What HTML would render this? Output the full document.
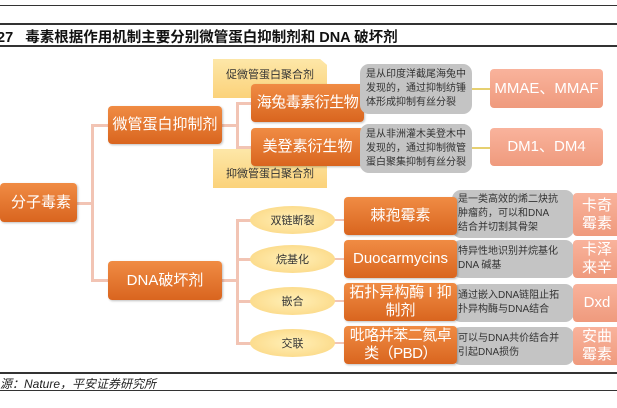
<!DOCTYPE html>
<html><head><meta charset="utf-8"><style>
body{margin:0;width:617px;height:408px;background:#fff;position:relative;overflow:hidden;font-family:"Liberation Sans","Noto Sans CJK SC",sans-serif;}
.a{position:absolute;box-sizing:border-box;display:flex;align-items:center;justify-content:center;text-align:center;white-space:nowrap;}
.o{background:linear-gradient(#f08c44,#d9651f);color:#fff;border-radius:4px;font-size:15px;line-height:18px;box-shadow:1px 1px 2px rgba(0,0,0,.25);}
.g{background:#c4c4c4;color:#333;border-radius:9px;font-size:10px;line-height:14px;text-align:left;justify-content:flex-start;padding-left:6px;}
.s{background:linear-gradient(#f9b39c,#ef9a7d);color:#fff;border-radius:4px;font-size:15px;line-height:18px;}
.y{background:linear-gradient(#fde7a8,#fbd27a);color:#333;font-size:11px;}
.e{background:radial-gradient(#fff0b8,#fbd47c);border-radius:50%;font-size:11px;color:#333;}
.l{position:absolute;background:#f2c4b4;}
.ln{position:absolute;left:0;width:617px;background:#333;}
</style></head><body>
<div class="ln" style="top:5px;height:1px"></div>
<div class="ln" style="top:23px;height:2px"></div>
<div class="ln" style="top:45px;height:2px"></div>
<div style="position:absolute;left:-3px;top:26px;font-size:14.5px;font-weight:bold;color:#111;white-space:nowrap">27&nbsp;&nbsp;&nbsp;毒素根据作用机制主要分别微管蛋白抑制剂和 DNA 破坏剂</div>

<div class="l" style="left:91px;top:125px;width:3px;height:157px;border-radius:3px"></div>
<div class="l" style="left:91px;top:124px;width:18px;height:3px"></div>
<div class="l" style="left:91px;top:279px;width:18px;height:3px"></div>
<div class="l" style="left:77px;top:202px;width:16px;height:3px"></div>
<div class="l" style="left:222px;top:124px;width:16px;height:3px"></div>
<div class="l" style="left:236px;top:103px;width:3px;height:44px"></div>
<div class="l" style="left:236px;top:102px;width:16px;height:3px"></div>
<div class="l" style="left:236px;top:146px;width:16px;height:3px"></div>
<div class="l" style="left:222px;top:279px;width:16px;height:3px"></div>
<div class="l" style="left:236px;top:219px;width:3px;height:125px"></div>
<div class="l" style="left:236px;top:219px;width:15px;height:3px"></div>
<div class="l" style="left:236px;top:258px;width:15px;height:3px"></div>
<div class="l" style="left:236px;top:300px;width:15px;height:3px"></div>
<div class="l" style="left:236px;top:342px;width:15px;height:3px"></div>
<div class="l" style="left:334px;top:219px;width:12px;height:2px"></div>
<div class="l" style="left:334px;top:258px;width:12px;height:2px"></div>
<div class="l" style="left:334px;top:300px;width:12px;height:2px"></div>
<div class="l" style="left:334px;top:342px;width:12px;height:2px"></div>
<div class="l" style="left:470px;top:88px;width:22px;height:2px;background:#e6d070"></div>
<div class="l" style="left:470px;top:147px;width:22px;height:2px;background:#e6d070"></div>

<div class="a y" style="left:213px;top:59px;width:114px;height:39px;align-items:flex-start;padding-top:7px;clip-path:polygon(0 0,94% 0,100% 15%,100% 100%,0 100%)">促微管蛋白聚合剂</div>
<div class="a y" style="left:213px;top:149px;width:114px;height:39px;align-items:flex-end;padding-bottom:7px">抑微管蛋白聚合剂</div>

<div class="a o" style="left:0;top:183px;width:77px;height:39px;justify-content:flex-end;padding-right:6px">分子毒素</div>
<div class="a o" style="left:108px;top:106px;width:114px;height:38px">微管蛋白抑制剂</div>
<div class="a o" style="left:108px;top:261px;width:114px;height:39px">DNA破坏剂</div>
<div class="a o" style="left:251px;top:84px;width:113px;height:38px;font-size:15px;letter-spacing:-0.5px">海兔毒素衍生物</div>
<div class="a o" style="left:251px;top:128px;width:113px;height:38px;font-size:15px">美登素衍生物</div>

<div class="a g" style="left:360px;top:64px;width:112px;height:50px">是从印度洋截尾海兔中<br>发现的，通过抑制纺锤<br>体形成抑制有丝分裂</div>
<div class="a g" style="left:360px;top:124px;width:112px;height:49px">是从非洲灌木美登木中<br>发现的，通过抑制微管<br>蛋白聚集抑制有丝分裂</div>
<div class="a s" style="left:490px;top:69px;width:113px;height:39px">MMAE、MMAF</div>
<div class="a s" style="left:490px;top:128px;width:113px;height:38px">DM1、DM4</div>

<div class="a e" style="left:250px;top:206px;width:85px;height:28px">双链断裂</div>
<div class="a e" style="left:250px;top:245px;width:85px;height:28px">烷基化</div>
<div class="a e" style="left:250px;top:287px;width:85px;height:28px">嵌合</div>
<div class="a e" style="left:250px;top:329px;width:85px;height:28px">交联</div>

<div class="a g" style="left:452px;top:190px;width:122px;height:48px">是一类高效的烯二炔抗<br>肿瘤药，可以和DNA<br>结合并切割其骨架</div>
<div class="a g" style="left:452px;top:240px;width:122px;height:38px">特异性地识别并烷基化<br>DNA 碱基</div>
<div class="a g" style="left:452px;top:284px;width:122px;height:38px">通过嵌入DNA链阻止拓<br>扑异构酶与DNA结合</div>
<div class="a g" style="left:452px;top:327px;width:122px;height:38px">可以与DNA共价结合并<br>引起DNA损伤</div>

<div class="a o" style="left:344px;top:197px;width:113px;height:38px">棘孢霉素</div>
<div class="a o" style="left:344px;top:240px;width:113px;height:38px">Duocarmycins</div>
<div class="a o" style="left:344px;top:283px;width:113px;height:38px">拓扑异构酶 I 抑<br>制剂</div>
<div class="a o" style="left:344px;top:326px;width:113px;height:38px;letter-spacing:-0.5px">吡咯并苯二氮卓<br>类（PBD）</div>

<div class="a s" style="left:573px;top:193px;width:48px;height:43px">卡奇<br>霉素</div>
<div class="a s" style="left:573px;top:240px;width:48px;height:38px">卡泽<br>来辛</div>
<div class="a s" style="left:573px;top:284px;width:48px;height:38px">Dxd</div>
<div class="a s" style="left:573px;top:327px;width:48px;height:38px">安曲<br>霉素</div>

<div class="ln" style="top:372px;height:2px"></div>
<div style="position:absolute;left:0;top:375px;font-size:12px;font-style:italic;color:#222;white-space:nowrap">源：Nature，平安证券研究所</div>
<div class="ln" style="top:390px;height:1px"></div>
</body></html>
